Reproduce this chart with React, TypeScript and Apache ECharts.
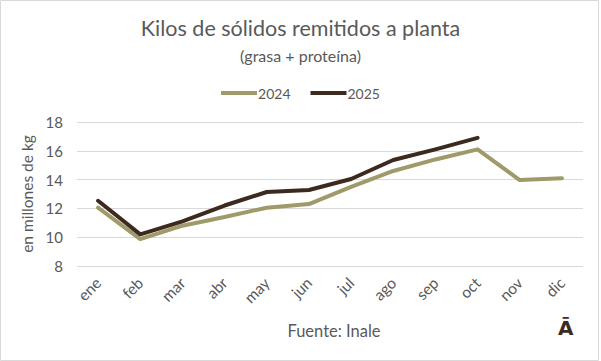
import React, { useEffect, useRef } from "react";
import * as echarts from "echarts";

const months = ["ene", "feb", "mar", "abr", "may", "jun", "jul", "ago", "sep", "oct", "nov", "dic"];
const values2024 = [12.05, 9.87, 10.8, 11.4, 12.05, 12.3, 13.5, 14.6, 15.4, 16.1, 13.97, 14.1];
const values2025 = [12.53, 10.2, 11.1, 12.2, 13.14, 13.28, 14.04, 15.36, 16.1, 16.9, null, null];
const yTicks = { min: 8, max: 18, interval: 2 };

const FONT = "Lato";
const GRAY = "#595959";

export default function App() {
  const ref = useRef<HTMLDivElement>(null);
  useEffect(() => {
    const chart = echarts.init(ref.current!, undefined, { renderer: "svg" });
    chart.setOption({
      animation: false,
      backgroundColor: "#ffffff",
      textStyle: { fontFamily: FONT },
      title: [
        {
          text: "Kilos de sólidos remitidos a planta",
          left: "center",
          top: 12,
          textStyle: { fontFamily: FONT, fontSize: 21.5, fontWeight: "normal", color: GRAY },
        },
        {
          text: "(grasa + proteína)",
          left: "center",
          top: 42,
          textStyle: { fontFamily: FONT, fontSize: 16, fontWeight: "normal", color: GRAY },
        },
        {
          text: "Fuente: Inale",
          left: 329,
          textAlign: "center",
          top: 317,
          textStyle: { fontFamily: FONT, fontSize: 16.5, fontWeight: "normal", color: GRAY },
        },
      ],
      legend: {
        top: 81,
        left: "center",
        itemWidth: 36,
        itemHeight: 4,
        itemGap: 20,
        icon: "rect",
        textStyle: { fontFamily: FONT, fontSize: 14, color: GRAY, padding: [0, 0, 0, -4] },
        data: ["2024", "2025"],
      },
      grid: { left: 77, right: 18, top: 122, bottom: 95 },
      xAxis: {
        type: "category",
        data: months,
        boundaryGap: true,
        axisLine: { show: false },
        axisTick: { show: false },
        axisLabel: { rotate: 45, color: GRAY, fontSize: 15.5, fontFamily: FONT, margin: 14 },
      },
      yAxis: {
        type: "value",
        min: yTicks.min,
        max: yTicks.max,
        interval: yTicks.interval,
        name: "en millones de kg",
        nameLocation: "middle",
        nameGap: 34,
        nameTextStyle: { color: GRAY, fontSize: 15.5, fontFamily: FONT },
        axisLine: { show: false },
        axisTick: { show: false },
        axisLabel: { color: GRAY, fontSize: 15, fontFamily: FONT, margin: 14 },
        splitLine: { lineStyle: { color: "#d9d9d9", width: 1 } },
      },
      series: [
        {
          name: "2024",
          type: "line",
          data: values2024,
          symbol: "none",
          lineStyle: { color: "#a09a6a", width: 4, cap: "round", join: "round" },
          itemStyle: { color: "#a09a6a" },
        },
        {
          name: "2025",
          type: "line",
          data: values2025,
          symbol: "none",
          lineStyle: { color: "#3d2a1e", width: 4, cap: "round", join: "round" },
          itemStyle: { color: "#3d2a1e" },
        },
      ],
      graphic: [
        {
          type: "rect",
          shape: { x: 0.5, y: 0.5, width: 598, height: 360 },
          style: { fill: "none", stroke: "#d9d9d9", lineWidth: 1 },
        },
        {
          type: "text",
          left: 558,
          top: 318,
          style: { text: "Ā", fontFamily: "DejaVu Sans", fontWeight: "bold", fontSize: 20, fill: "#3d2a1e" },
        },
      ],
    });
    return () => chart.dispose();
  }, []);
  return <div ref={ref} style={{ position: "fixed", left: 0, top: 0, width: 601, height: 361 }} />;
}
